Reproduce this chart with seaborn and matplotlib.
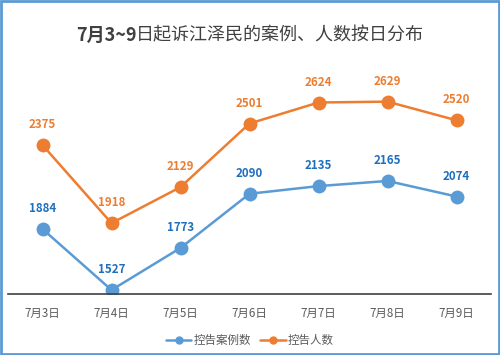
import matplotlib
matplotlib.use("Agg")
import matplotlib.pyplot as plt
import seaborn as sns
import pandas as pd
from matplotlib.patches import Rectangle
from matplotlib.lines import Line2D

dates = ["7月3日", "7月4日", "7月5日", "7月6日", "7月7日", "7月8日", "7月9日"]
cases = [1884, 1527, 1773, 2090, 2135, 2165, 2074]
people = [2375, 1918, 2129, 2501, 2624, 2629, 2520]
series_names = ["控告案例数", "控告人数"]
title_bold = "7月3~9"
title_rest = "日起诉江泽民的案例、人数按日分布"

sns.set_theme(style="white")
plt.rcParams['font.family'] = ['Noto Sans CJK SC', 'DejaVu Sans']

df = pd.DataFrame({
    "date": dates * 2,
    "x": list(range(len(dates))) * 2,
    "value": cases + people,
    "series": [series_names[0]] * len(dates) + [series_names[1]] * len(dates),
})

colors = {series_names[0]: "#5B9BD5", series_names[1]: "#ED7D31"}
label_colors = {series_names[0]: "#1F6FBF", series_names[1]: "#ED7D31"}

fig = plt.figure(figsize=(5, 3.55), dpi=100)
ax = fig.add_axes([0.016, 0.172, 0.966, 0.624])

sns.lineplot(data=df, x="x", y="value", hue="series", palette=colors,
             marker="o", markersize=10, markeredgewidth=0, linewidth=1.8,
             ax=ax, legend=False)

for name, vals in zip(series_names, [cases, people]):
    for i, v in enumerate(vals):
        ax.annotate(str(v), (i, v), xytext=(0, 10), textcoords="offset points",
                    ha="center", va="bottom", fontsize=8.3, fontweight="bold",
                    color=label_colors[name])

ax.set_xlim(-0.5, len(dates) - 0.5)
ax.set_ylim(1504, 2800)
ax.set_xticks(range(len(dates)))
ax.set_xticklabels(dates, fontsize=8.3, color="#595959")
ax.tick_params(axis="x", length=0, pad=9)
ax.set_yticks([])
ax.set_xlabel("")
ax.set_ylabel("")
for s in ["top", "left", "right"]:
    ax.spines[s].set_visible(False)
ax.spines["bottom"].set_color("#404040")
ax.spines["bottom"].set_linewidth(1.2)

handles = [Line2D([], [], color=colors[n], marker="o", markersize=5, linewidth=1.8) for n in series_names]
fig.legend(handles, series_names, loc="center", bbox_to_anchor=(0.5, 0.04), ncol=2,
           frameon=False, fontsize=8.3, handlelength=2.2, handletextpad=0.2,
           columnspacing=0.8, labelcolor="#595959")

# Title: bold latin part + regular CJK part, centered as a whole
fs = 13
t1 = fig.text(0, 0.9, title_bold, ha="left", va="center", fontsize=fs,
              fontweight="bold", color="#404040")
t2 = fig.text(0, 0.9, title_rest, ha="left", va="center", fontsize=fs,
              fontweight="medium", color="#404040")
fig.canvas.draw()
r = fig.canvas.get_renderer()
w1 = t1.get_window_extent(r).width
w2 = t2.get_window_extent(r).width
W = fig.bbox.width
x0 = (W - (w1 + w2)) / 2
t1.set_x(x0 / W)
t2.set_x((x0 + w1) / W)

fig.patches.append(Rectangle((0.002, 0.003), 0.995, 0.994, transform=fig.transFigure,
                             fill=False, edgecolor="#5B9BD5", linewidth=2))

fig.savefig("out.png", dpi=100)
